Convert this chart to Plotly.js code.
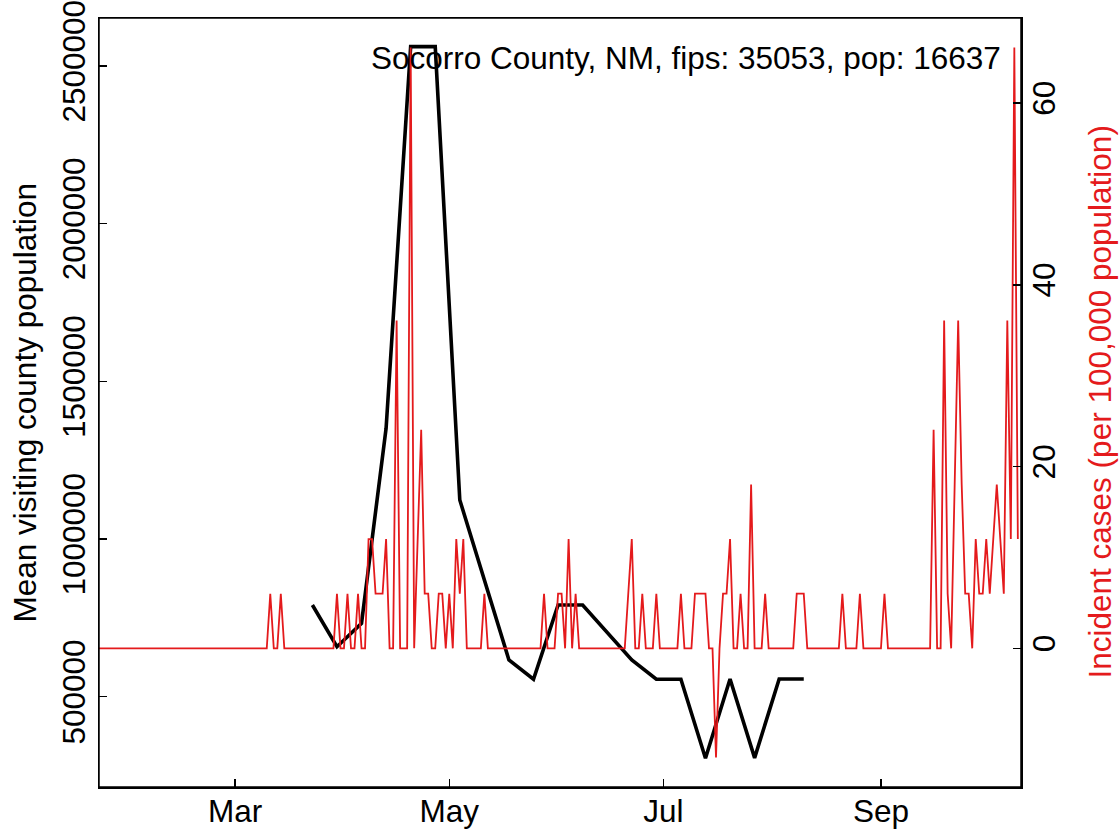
<!DOCTYPE html>
<html>
<head>
<meta charset="utf-8">
<script src="https://cdn.plot.ly/plotly-3.0.1.min.js"></script>
<style>html,body{margin:0;padding:0;background:#fff;overflow:hidden;}#chart{width:1119px;height:832px;}</style>
</head>
<body>
<div id="chart"></div>
<script>
// Weekly mean visiting county population (left axis)
const mobilityDates = ['2020-03-23','2020-03-30','2020-04-06','2020-04-13','2020-04-20','2020-04-27',
  '2020-05-04','2020-05-11','2020-05-18','2020-05-25','2020-06-01','2020-06-08','2020-06-15',
  '2020-06-22','2020-06-29','2020-07-06','2020-07-13','2020-07-20','2020-07-27','2020-08-03','2020-08-10'];
const mobilityValues = [790700,658500,732700,1351000,2561000,2561000,
  1123700,870000,616400,555200,790700,790700,703000,
  616400,555200,555200,305000,556100,306000,556100,556100];

// Daily incident cases per 100,000 population (right axis), starting 2020-01-22
const caseStartDate = '2020-01-22';
const incidentCases = [
  0,0,0,0,0,0,0,0,0,0,
  0,0,0,0,0,0,0,0,0,0,
  0,0,0,0,0,0,0,0,0,0,
  0,0,0,0,0,0,0,0,0,0,
  0,0,0,0,0,0,0,0,0,6.01,
  0,0,6.01,0,0,0,0,0,0,0,
  0,0,0,0,0,0,0,0,6.01,0,
  0,6.01,0,0,6.01,0,0,12.02,12.02,6.01,
  6.01,6.01,12.02,0,0,36.06,0,0,0,66.12,
  0,12.02,24.04,6.01,6.01,0,0,6.01,6.01,0,
  6.01,0,12.02,6.01,12.02,0,0,0,0,0,
  6.01,0,0,0,0,0,0,0,0,0,
  0,0,0,0,0,0,0,6.01,0,0,
  0,6.01,6.01,0,12.02,0,6.01,0,0,0,
  0,0,0,0,0,0,0,0,0,0,
  0,6.01,12.02,0,0,6.01,0,0,0,6.01,
  0,0,0,0,0,0,6.01,0,0,0,
  6.01,6.01,6.01,6.01,0,0,-12.02,0,6.01,6.01,
  12.02,0,0,6.01,0,0,18.03,0,0,0,
  6.01,0,0,0,0,0,0,0,0,6.01,
  6.01,6.01,0,0,0,0,0,0,0,0,
  0,0,6.01,0,0,0,0,6.01,0,0,
  0,0,0,0,6.01,0,0,0,0,0,
  0,0,0,0,0,0,0,0,24.04,0,
  0,36.06,6.01,0,18.03,36.06,18.03,6.01,6.01,0,
  12.02,6.01,6.01,12.02,6.01,12.02,18.03,12.02,6.01,36.06,
  12.02,66.12,12.02
];

const xTickVals = ['2020-03-01','2020-05-01','2020-07-01','2020-09-01'];
const xTickText = ['Mar','May','Jul','Sep'];
const leftTickVals = [500000,1000000,1500000,2000000,2500000];
const leftTickText = ['500000','1000000','1500000','2000000','2500000'];
const rightTickVals = [0,20,40,60];
const rightTickText = ['0','20','40','60'];

const titleText = 'Socorro County, NM, fips: 35053, pop: 16637';
const leftTitle = 'Mean visiting county population';
const rightTitle = 'Incident cases (per 100,000 population)';

function dayList(start, n) {
  const out = [];
  const t0 = Date.parse(start + 'T00:00:00Z');
  for (let i = 0; i < n; i++) {
    out.push(new Date(t0 + i * 86400000).toISOString().slice(0, 10));
  }
  return out;
}
const caseDates = dayList(caseStartDate, incidentCases.length);

const FONT = 'Liberation Sans, Arial, Helvetica, sans-serif';
const FS = 31.5;
const RED = '#E41A1C';
const X_RANGE = ['2020-01-22 04:48', '2020-10-10 21:36'];

const traces = [
  {x: mobilityDates, y: mobilityValues, type: 'scatter', mode: 'lines',
   line: {color: '#000000', width: 3.6}, yaxis: 'y', hoverinfo: 'skip', showlegend: false},
  {x: caseDates, y: incidentCases, type: 'scatter', mode: 'lines',
   line: {color: RED, width: 1.8}, yaxis: 'y2', hoverinfo: 'skip', showlegend: false}
];

const axisCommon = {
  showgrid: false, zeroline: false, showline: true, linecolor: '#000', linewidth: 1.5,
  ticks: 'inside', ticklen: 8, tickwidth: 1.5, tickcolor: '#000',
  ticklabeloverflow: 'allow',
  tickfont: {family: FONT, size: FS, color: '#000'}
};

const layout = {
  width: 1119, height: 832,
  margin: {l: 99, r: 98, t: 18, b: 45, pad: 0},
  paper_bgcolor: '#fff', plot_bgcolor: '#fff',
  showlegend: false,
  xaxis: Object.assign({}, axisCommon, {
    type: 'date', range: X_RANGE,
    tickmode: 'array', tickvals: xTickVals, ticktext: xTickText, mirror: true,
    ticklabelstandoff: -4
  }),
  yaxis: Object.assign({}, axisCommon, {
    range: [213700, 2651900], tickmode: 'array', tickvals: leftTickVals, ticktext: leftTickText,
    tickangle: -90, mirror: true, ticklabelstandoff: 0
  }),
  yaxis2: Object.assign({}, axisCommon, {
    overlaying: 'y', side: 'right', range: [-15.26, 69.36],
    tickmode: 'array', tickvals: rightTickVals, ticktext: rightTickText,
    tickangle: -90, ticklabelstandoff: -5
  }),
  shapes: [
    {type: 'rect', xref: 'paper', yref: 'paper', x0: 0, x1: 1, y0: 0, y1: 1,
     line: {color: '#000', width: 1.5}, fillcolor: 'rgba(0,0,0,0)', layer: 'above'}
  ],
  annotations: [
    {text: titleText, xref: 'paper', yref: 'paper', x: 1, y: 0.9476, xshift: -18,
     xanchor: 'right', yanchor: 'middle', showarrow: false,
     font: {family: FONT, size: FS, color: '#000'}},
    {text: leftTitle, xref: 'paper', yref: 'paper', x: 0, y: 0.5, xshift: -75,
     xanchor: 'center', yanchor: 'middle', textangle: -90, showarrow: false,
     font: {family: FONT, size: FS, color: '#000'}},
    {text: rightTitle, xref: 'paper', yref: 'paper', x: 1, y: 0.5, xshift: 78,
     xanchor: 'center', yanchor: 'middle', textangle: -90, showarrow: false,
     font: {family: FONT, size: FS, color: RED}}
  ]
};

Plotly.newPlot('chart', traces, layout, {staticPlot: true, displayModeBar: false});
</script>
</body>
</html>
